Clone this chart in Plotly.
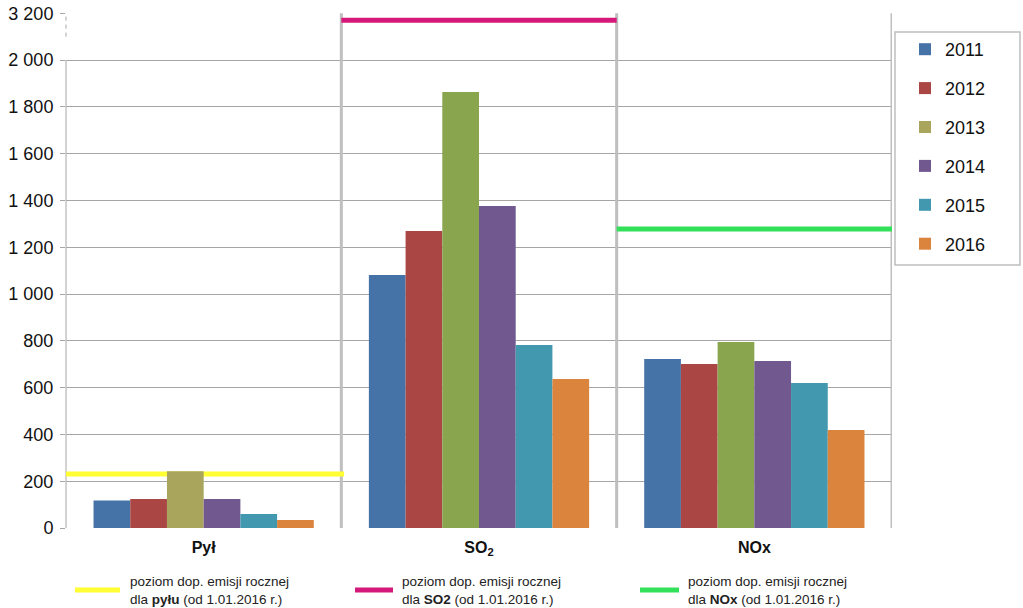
import plotly.graph_objects as go

# ---- data ----
categories = ["Pył", "SO<sub>2</sub>", "NOx"]
years = ["2011", "2012", "2013", "2014", "2015", "2016"]
v2011 = [117, 1081, 722]
v2012 = [124, 1269, 701]
v2013 = [243, 1863, 795]
v2014 = [124, 1376, 714]
v2015 = [60, 782, 620]
v2016 = [34, 637, 419]
series = [v2011, v2012, v2013, v2014, v2015, v2016]
colors = ["#4572A7", "#AA4643", "#89A54E", "#71588F", "#4198AF", "#DB843D"]
pyl_2013_color = "#A9A55C"

# permissible annual emission levels (SO2 value shown on broken axis segment)
limit_values = [231, 2170, 1278]
limit_colors = ["#FFFF33", "#D4197A", "#33E05A"]
limit_spans = [(-0.5, 0.51), (0.5, 1.5), (1.5, 2.5)]
limit_labels = [
    "poziom dop. emisji rocznej<br>dla <b>pyłu</b> (od 1.01.2016 r.)",
    "poziom dop. emisji rocznej<br>dla <b>SO2</b> (od 1.01.2016 r.)",
    "poziom dop. emisji rocznej<br>dla <b>NOx</b> (od 1.01.2016 r.)",
]

y_tickvals = [0, 200, 400, 600, 800, 1000, 1200, 1400, 1600, 1800, 2000, 2200]
y_ticktext = ["0", "200", "400", "600", "800", "1 000", "1 200", "1 400",
              "1 600", "1 800", "2 000", "3 200"]

x_pos = [0, 1, 2]

fig = go.Figure()
for i, (yr, vals, col) in enumerate(zip(years, series, colors)):
    mc = [col] * 3
    if yr == "2013":
        mc[0] = pyl_2013_color
    fig.add_trace(go.Bar(
        x=x_pos, y=vals, name=yr, marker=dict(color=mc, line=dict(width=0)),
        legendgroup=yr,
    ))

shapes = []
grid = "#BFBFBF"
# category separators and right border
for xv in [0.5, 1.5, 2.5]:
    shapes.append(dict(type="line", xref="x", yref="y", x0=xv, x1=xv, y0=0, y1=2200,
                       line=dict(color=grid, width=3), layer="between"))
# y axis line (solid) and broken part (dashed)
shapes.append(dict(type="line", xref="paper", yref="y", x0=0, x1=0, y0=0, y1=2000,
                   line=dict(color="#A6A6A6", width=1), layer="between"))
shapes.append(dict(type="line", xref="paper", yref="y", x0=0, x1=0, y0=2100, y1=2200,
                   line=dict(color="#A6A6A6", width=1, dash="4px,4px"), layer="between"))
# limit lines
for val, col, (xa, xb) in zip(limit_values, limit_colors, limit_spans):
    shapes.append(dict(type="line", xref="x", yref="y", x0=xa, x1=xb, y0=val, y1=val,
                       line=dict(color=col, width=5), layer="between"))
# legend box
shapes.append(dict(type="rect", xref="paper", yref="paper",
                   x0=(895 - 66) / 826, x1=(1020 - 66) / 826,
                   y0=(528 - 265) / 515, y1=(528 - 32) / 515,
                   line=dict(color="#BFBFBF", width=1.5), fillcolor="rgba(0,0,0,0)"))

# bottom explanatory legend for limit lines
seg_px = [(75, 120), (355, 393), (640, 679)]
text_px = [128, 400, 686]
annotations = []
for (a, b), col, tx, lab in zip(seg_px, limit_colors, text_px, limit_labels):
    yl = (528 - 590) / 515
    shapes.append(dict(type="line", xref="paper", yref="paper",
                       x0=(a - 66) / 826, x1=(b - 66) / 826, y0=yl, y1=yl,
                       line=dict(color=col, width=5)))
    annotations.append(dict(xref="paper", yref="paper", x=(tx - 66) / 826, y=yl,
                            xanchor="left", yanchor="middle", text=lab, showarrow=False,
                            align="left",
                            font=dict(family="Liberation Sans, Arial", size=13.5, color="#222222")))

fig.update_layout(
    width=1023, height=608,
    margin=dict(l=66, r=131, t=13, b=80, autoexpand=False),
    paper_bgcolor="white", plot_bgcolor="white",
    barmode="group", bargap=0.2, bargroupgap=0,
    font=dict(family="Liberation Sans, Arial", color="#111111"),
    shapes=shapes, annotations=annotations,
    legend=dict(x=(905 - 66) / 826, y=(528 - 31) / 515, xanchor="left", yanchor="top",
                font=dict(size=18, color="#111111"), tracegroupgap=12.5,
                bgcolor="rgba(0,0,0,0)", borderwidth=0, traceorder="grouped"),
    showlegend=True,
)
fig.update_xaxes(
    range=[-0.5, 2.5], tickvals=x_pos,
    ticktext=["<b>" + c + "</b>" for c in categories],
    tickfont=dict(size=16, color="#111111"),
    showgrid=False, zeroline=False, showline=False, ticks="", ticklabelstandoff=8,
    fixedrange=True,
)
fig.update_yaxes(
    range=[0, 2201], tickvals=y_tickvals, ticktext=y_ticktext,
    tickfont=dict(size=18, color="#111111"),
    showgrid=True, gridcolor="#A6A6A6", gridwidth=1, zeroline=False, showline=False,
    ticks="outside", ticklen=5, tickcolor="#A6A6A6", ticklabelstandoff=3,
    fixedrange=True,
)

fig.write_html(
    "out.html",
    config={"displayModeBar": False},
    post_script="document.body.style.margin='0';document.body.style.padding='0';",
)
